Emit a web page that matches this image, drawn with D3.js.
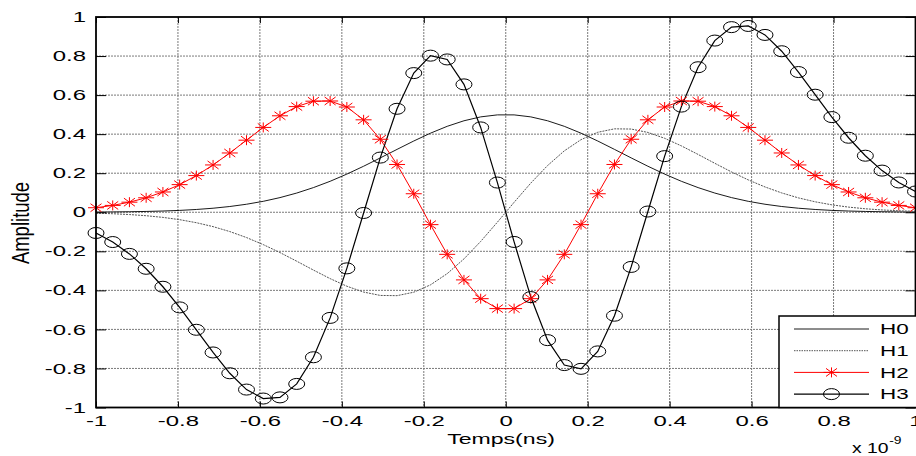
<!DOCTYPE html>
<html>
<head>
<meta charset="utf-8">
<script src="https://cdn.jsdelivr.net/npm/d3@7"></script>
<style>
body { margin: 0; background: #fff; }
svg { display: block; }
</style>
</head>
<body>
<svg width="916" height="456"></svg>
<script>
// time in ns (axis shown as x 10^-9 s)
var time = [-1, -0.9592, -0.9184, -0.8776, -0.8367, -0.7959, -0.7551, -0.7143, -0.6735, -0.6327,
    -0.5918, -0.551, -0.5102, -0.4694, -0.4286, -0.3878, -0.3469, -0.3061, -0.2653, -0.2245,
    -0.1837, -0.1429, -0.102, -0.0612, -0.0204, 0.0204, 0.0612, 0.102, 0.1429, 0.1837,
    0.2245, 0.2653, 0.3061, 0.3469, 0.3878, 0.4286, 0.4694, 0.5102, 0.551, 0.5918,
    0.6327, 0.6735, 0.7143, 0.7551, 0.7959, 0.8367, 0.8776, 0.9184, 0.9592, 1];

var h0 = [0.001, 0.0016, 0.0026, 0.0041, 0.0063, 0.0095, 0.0142, 0.0206, 0.0294, 0.041,
    0.056, 0.075, 0.0983, 0.1262, 0.1586, 0.1954, 0.2356, 0.2784, 0.322, 0.3649,
    0.405, 0.4401, 0.4685, 0.4884, 0.4987, 0.4987, 0.4884, 0.4685, 0.4401, 0.405,
    0.3649, 0.322, 0.2784, 0.2356, 0.1954, 0.1586, 0.1262, 0.0983, 0.075, 0.056,
    0.041, 0.0294, 0.0206, 0.0142, 0.0095, 0.0063, 0.0041, 0.0026, 0.0016, 0.001];

var h1 = [-0.0048, -0.0076, -0.0118, -0.0178, -0.0263, -0.038, -0.0535, -0.0736, -0.0989, -0.1296,
    -0.1657, -0.2065, -0.2507, -0.2961, -0.3399, -0.3788, -0.4088, -0.4261, -0.4272, -0.4096,
    -0.3719, -0.3144, -0.239, -0.1495, -0.0509, 0.0509, 0.1495, 0.239, 0.3144, 0.3719,
    0.4096, 0.4272, 0.4261, 0.4088, 0.3788, 0.3399, 0.2961, 0.2507, 0.2065, 0.1657,
    0.1296, 0.0989, 0.0736, 0.0535, 0.038, 0.0263, 0.0178, 0.0118, 0.0076, 0.0048];

var h2 = [0.0232, 0.035, 0.0516, 0.0741, 0.1038, 0.1415, 0.1878, 0.2423, 0.3036, 0.3691,
    0.4344, 0.494, 0.5412, 0.5688, 0.5698, 0.539, 0.4734, 0.3738, 0.2447, 0.0948,
    -0.0634, -0.2156, -0.3465, -0.4426, -0.4935, -0.4935, -0.4426, -0.3465, -0.2156, -0.0634,
    0.0948, 0.2447, 0.3738, 0.4734, 0.539, 0.5698, 0.5688, 0.5412, 0.494, 0.4344,
    0.3691, 0.3036, 0.2423, 0.1878, 0.1415, 0.1038, 0.0741, 0.0516, 0.035, 0.0232];

var h3 = [-0.1062, -0.1526, -0.2133, -0.2896, -0.3816, -0.4873, -0.602, -0.7181, -0.8246, -0.9082,
    -0.9541, -0.9481, -0.8793, -0.7427, -0.5411, -0.2874, -0.0037, 0.28, 0.5299, 0.7127,
    0.802, 0.7827, 0.6549, 0.4345, 0.1521, -0.1521, -0.4345, -0.6549, -0.7827, -0.802,
    -0.7127, -0.5299, -0.28, 0.0037, 0.2874, 0.5411, 0.7427, 0.8793, 0.9481, 0.9541,
    0.9082, 0.8246, 0.7181, 0.602, 0.4873, 0.3816, 0.2896, 0.2133, 0.1526, 0.1062];

var seriesNames = ["H0", "H1", "H2", "H3"];

var xTicks = [-1, -0.8, -0.6, -0.4, -0.2, 0, 0.2, 0.4, 0.6, 0.8, 1];
var xTickLabels = ["-1", "-0.8", "-0.6", "-0.4", "-0.2", "0", "0.2", "0.4", "0.6", "0.8", "1"];
var yTicks = [-1, -0.8, -0.6, -0.4, -0.2, 0, 0.2, 0.4, 0.6, 0.8, 1];
var yTickLabels = ["-1", "-0.8", "-0.6", "-0.4", "-0.2", "0", "0.2", "0.4", "0.6", "0.8", "1"];

var FONT = "'Liberation Sans', Arial, Helvetica, sans-serif";
var SX = 1.65; // the picture is stretched sideways, so is the text

var svg = d3.select("svg"),
    margin = {top: 17, right: 0.5, bottom: 48.5, left: 96},
    width = +svg.attr("width") - margin.left - margin.right,
    height = +svg.attr("height") - margin.top - margin.bottom,
    g = svg.append("g").attr("transform", "translate(" + margin.left + "," + margin.top + ")");

var x = d3.scaleLinear().domain([-1, 1]).range([0, width]);
var y = d3.scaleLinear().domain([-1, 1]).range([height, 0]);

// grid
var grid = g.append("g")
    .attr("stroke", "#7a7a7a")
    .attr("stroke-width", 1)
    .attr("stroke-dasharray", "2,1");
grid.selectAll(".gx")
    .data(xTicks.slice(1, -1))
    .enter().append("line")
    .attr("x1", function(d) { return x(d); })
    .attr("x2", function(d) { return x(d); })
    .attr("y1", 0)
    .attr("y2", height);
grid.selectAll(".gy")
    .data(yTicks.slice(1, -1))
    .enter().append("line")
    .attr("y1", function(d) { return y(d); })
    .attr("y2", function(d) { return y(d); })
    .attr("x1", 0)
    .attr("x2", width);

// curves
var line = d3.line()
    .x(function(d, i) { return x(time[i]); })
    .y(function(d) { return y(d); });

var styles = {
    H0: {values: h0, stroke: "#000", width: 0.9, dash: null},
    H1: {values: h1, stroke: "#555", width: 1, dash: "2,1"},
    H2: {values: h2, stroke: "#ff0000", width: 1, dash: null},
    H3: {values: h3, stroke: "#000", width: 1.2, dash: null}
};

seriesNames.forEach(function(name) {
    var s = styles[name];
    g.append("path")
        .datum(s.values)
        .attr("fill", "none")
        .attr("stroke", s.stroke)
        .attr("stroke-width", s.width)
        .attr("stroke-dasharray", s.dash)
        .attr("d", line);
});

var starPath = "M-8,0H8M0,-5V5M-5.5,-4L5.5,4M-5.5,4L5.5,-4";

function drawStar(sel) {
    sel.append("path")
        .attr("d", starPath)
        .attr("stroke", "#ff0000")
        .attr("stroke-width", 1)
        .attr("fill", "none");
}
function drawCircle(sel) {
    sel.append("ellipse")
        .attr("rx", 8)
        .attr("ry", 5.5)
        .attr("fill", "none")
        .attr("stroke", "#000")
        .attr("stroke-width", 1);
}

g.append("g").selectAll("g")
    .data(h2)
    .enter().append("g")
    .attr("transform", function(d, i) { return "translate(" + x(time[i]) + "," + y(d) + ")"; })
    .call(drawStar);

g.append("g").selectAll("g")
    .data(h3)
    .enter().append("g")
    .attr("transform", function(d, i) { return "translate(" + x(time[i]) + "," + y(d) + ")"; })
    .call(drawCircle);

// axes, ticks pointing inward on all four sides
function styleAxis(ax) {
    ax.attr("font-family", FONT).attr("font-size", 14.5);
    ax.select(".domain").remove();
    ax.selectAll("line").attr("stroke", "#000").attr("stroke-width", 1);
    ax.selectAll("text").attr("fill", "#000");
}

var xAxis = g.append("g")
    .attr("transform", "translate(0," + height + ")")
    .call(d3.axisBottom(x).tickValues(xTicks)
        .tickFormat(function(d, i) { return xTickLabels[i]; })
        .tickSizeInner(-6).tickSizeOuter(0));
styleAxis(xAxis);
xAxis.selectAll("text")
    .attr("y", 18.5)
    .attr("dy", 0)
    .attr("transform", "scale(" + SX + ",1)");

var yAxis = g.append("g")
    .call(d3.axisLeft(y).tickValues(yTicks)
        .tickFormat(function(d, i) { return yTickLabels[i]; })
        .tickSizeInner(-10).tickSizeOuter(0));
styleAxis(yAxis);
yAxis.selectAll("text")
    .attr("x", -10 / SX)
    .attr("transform", "scale(" + SX + ",1)");

var topAxis = g.append("g")
    .call(d3.axisTop(x).tickValues(xTicks).tickFormat("").tickSizeInner(-6).tickSizeOuter(0));
styleAxis(topAxis);

var rightAxis = g.append("g")
    .attr("transform", "translate(" + width + ",0)")
    .call(d3.axisRight(y).tickValues(yTicks).tickFormat("").tickSizeInner(-10).tickSizeOuter(0));
styleAxis(rightAxis);

// box
g.append("rect")
    .attr("x", 0)
    .attr("y", 0)
    .attr("width", width)
    .attr("height", height)
    .attr("fill", "none")
    .attr("stroke", "#000")
    .attr("stroke-width", 1.8);

// axis labels
svg.append("text")
    .attr("font-family", FONT)
    .attr("font-size", 14)
    .attr("text-anchor", "middle")
    .attr("transform", "translate(501,444) scale(" + SX + ",1)")
    .text("Temps(ns)");

svg.append("text")
    .attr("font-family", FONT)
    .attr("font-size", 18.5)
    .attr("text-anchor", "middle")
    .attr("transform", "translate(28.5,223) scale(1.25,1) rotate(-90)")
    .text("Amplitude");

var expo = svg.append("g")
    .attr("font-family", FONT)
    .attr("transform", "translate(852,453) scale(1.38,1)");
expo.append("text")
    .attr("font-size", 14)
    .text("x 10");
expo.append("text")
    .attr("x", 27)
    .attr("y", -9)
    .attr("font-size", 10)
    .text("-9");

// legend
var lx = 779, ly = 316;
var legend = svg.append("g");
legend.append("rect")
    .attr("x", lx)
    .attr("y", ly)
    .attr("width", 145)
    .attr("height", 407.5 - ly)
    .attr("fill", "#fff")
    .attr("stroke", "#000")
    .attr("stroke-width", 1.5);

var rows = legend.selectAll(".row")
    .data(seriesNames)
    .enter().append("g")
    .attr("transform", function(d, i) { return "translate(" + lx + "," + (ly + 13 + i * 21.7) + ")"; });

rows.append("line")
    .attr("x1", 15)
    .attr("x2", 90)
    .attr("stroke", function(d) { return styles[d].stroke; })
    .attr("stroke-width", function(d) { return styles[d].width; })
    .attr("stroke-dasharray", function(d) { return d == "H1" ? "1.5,1" : null; });

rows.filter(function(d) { return d == "H2"; })
    .append("g").attr("transform", "translate(52.5,0)").call(drawStar);
rows.filter(function(d) { return d == "H3"; })
    .append("g").attr("transform", "translate(52.5,0)").call(drawCircle);

rows.append("text")
    .attr("font-family", FONT)
    .attr("font-size", 14.5)
    .attr("dy", "0.36em")
    .attr("transform", "translate(101,0) scale(1.55,1)")
    .text(function(d) { return d; });
</script>
</body>
</html>
